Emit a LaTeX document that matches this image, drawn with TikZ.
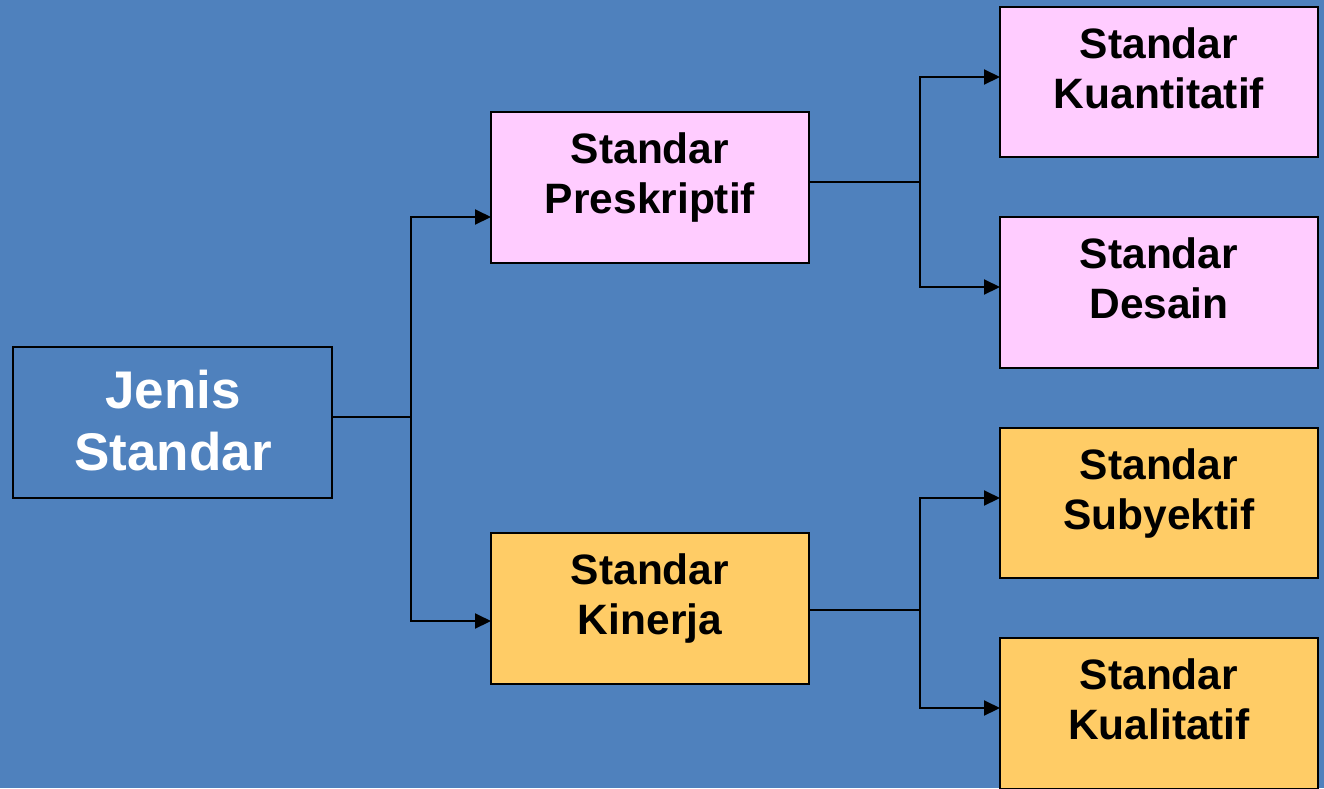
\documentclass[tikz,border=0pt]{standalone}
\usepackage{fontspec}
\setmainfont{Liberation Sans}
\usetikzlibrary{arrows.meta}
\definecolor{bgblue}{HTML}{4F81BD}
\definecolor{pinkfill}{HTML}{FFCCFF}
\definecolor{orangefill}{HTML}{FFCC66}
\begin{document}
\begin{tikzpicture}[x=1pt,y=-1pt,
  box/.style={draw=black,line width=2.5pt,outer sep=0pt,inner sep=0pt,
              minimum width=318pt,minimum height=151pt},
  boxtext/.style={anchor=north,inner sep=0pt,align=center,
                  font=\fontsize{42.5}{50}\selectfont\bfseries},
  conn/.style={draw=black,line width=2pt},
  arr/.style={conn,-{Triangle[length=16pt,width=15pt]}}]
  % canvas
  \fill[bgblue] (0,0) rectangle (1324,788);
  \useasboundingbox (0,0) rectangle (1324,788);
  \begin{scope}
  \clip (0,0) rectangle (1324,788);

  % root
  \node[box,fill=bgblue,minimum width=319pt] (jenis) at (172.5,422.5) {};
  \node[inner sep=0pt,align=center,text=white,
        font=\fontsize{53}{62}\selectfont\bfseries] (jenis-t) at (173,421) {Jenis\\Standar};

  % second level
  \node[box,fill=pinkfill] (presk) at (650,187.5) {};
  \node[boxtext] (presk-t) at ([yshift=-20.5pt]presk.north) {Standar\\Preskriptif};
  \node[box,fill=orangefill] (kinerja) at (650,608.5) {};
  \node[boxtext] (kinerja-t) at ([yshift=-20.5pt]kinerja.north) {Standar\\Kinerja};

  % third level
  \node[box,fill=pinkfill,minimum height=150pt] (kuan) at (1159,82) {};
  \node[boxtext] (kuan-t) at ([yshift=-20.5pt]kuan.north) {Standar\\Kuantitatif};
  \node[box,fill=pinkfill] (desain) at (1159,292.5) {};
  \node[boxtext] (desain-t) at ([yshift=-20.5pt]desain.north) {Standar\\Desain};
  \node[box,fill=orangefill,minimum height=150pt] (suby) at (1159,503) {};
  \node[boxtext] (suby-t) at ([yshift=-20.5pt]suby.north) {Standar\\Subyektif};
  \node[box,fill=orangefill] (kual) at (1159,713.5) {};
  \node[boxtext] (kual-t) at ([yshift=-20.5pt]kual.north) {Standar\\Kualitatif};

  % branch points
  \coordinate (bj) at (411,417);
  \coordinate (bp) at (920,182);
  \coordinate (bk) at (920,610);

  % connectors
  \draw[conn] (jenis.east |- bj) -- (bj);
  \draw[arr] (bj) |- ([yshift=-29.5pt]presk.west);
  \draw[arr] (bj) |- ([yshift=-12.5pt]kinerja.west);

  \draw[conn] (presk.east |- bp) -- (bp);
  \draw[arr] (bp) |- ([yshift=5pt]kuan.west);
  \draw[arr] (bp) |- ([yshift=5.5pt]desain.west);

  \draw[conn] (kinerja.east |- bk) -- (bk);
  \draw[arr] (bk) |- ([yshift=5pt]suby.west);
  \draw[arr] (bk) |- ([yshift=5.5pt]kual.west);
  \end{scope}
\end{tikzpicture}
\end{document}
